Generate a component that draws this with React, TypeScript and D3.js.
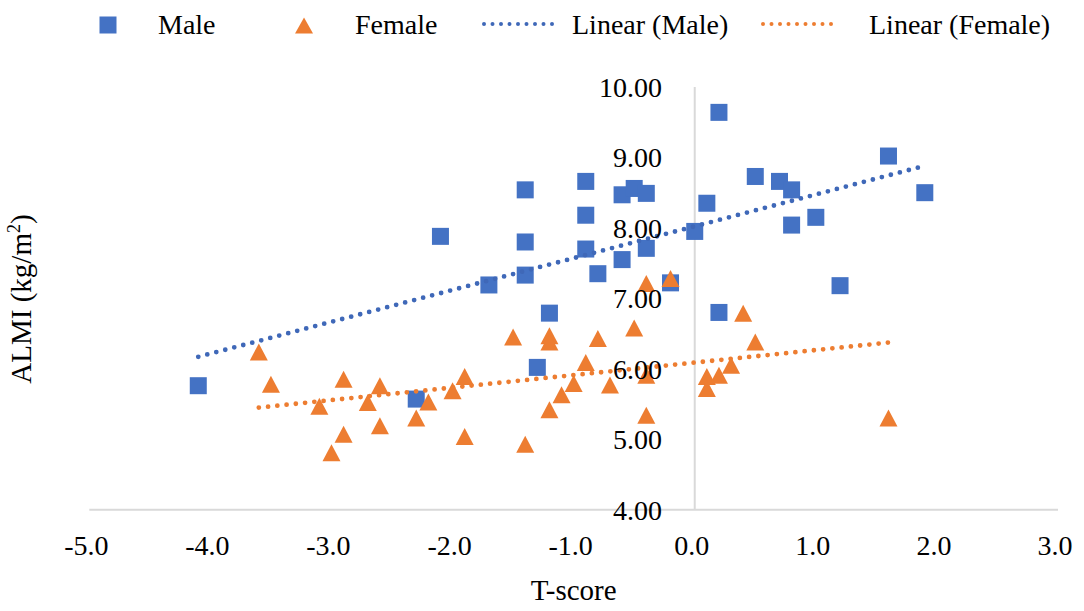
import * as d3 from "d3";

// T-score / ALMI values
const maleT = [-4.1, -2.3, -2.1, -1.7, -1.4, -1.4, -1.4, -1.3, -1.2, -0.9, -0.9, -0.9, -0.8, -0.6, -0.6, -0.5, -0.4, -0.4, -0.2, 0.0, 0.1, 0.2, 0.2, 0.5, 0.7, 0.8, 0.8, 1.0, 1.2, 1.6, 1.9];
const maleAlmi = [5.76, 5.57, 7.88, 7.19, 8.54, 7.8, 7.33, 6.02, 6.79, 8.66, 8.18, 7.7, 7.35, 8.47, 7.55, 8.56, 8.49, 7.71, 7.22, 7.95, 8.35, 9.64, 6.8, 8.73, 8.66, 8.54, 8.04, 8.15, 7.18, 9.02, 8.5];

const femaleT = [-3.6, -3.5, -3.1, -3.0, -2.9, -2.9, -2.7, -2.6, -2.6, -2.3, -2.2, -2.0, -1.9, -1.9, -1.5, -1.4, -1.2, -1.2, -1.2, -1.1, -1.0, -0.9, -0.8, -0.7, -0.5, -0.4, -0.4, -0.4, -0.2, 0.1, 0.1, 0.2, 0.3, 0.4, 0.5, 1.6];
const femaleAlmi = [6.24, 5.78, 5.47, 4.81, 5.85, 5.07, 5.52, 5.76, 5.19, 5.3, 5.53, 5.69, 5.89, 5.04, 6.45, 4.93, 6.47, 6.38, 5.42, 5.63, 5.79, 6.09, 6.43, 5.77, 6.58, 7.21, 5.91, 5.34, 7.28, 5.89, 5.72, 5.91, 6.05, 6.79, 6.38, 5.3];

const xTicks = [-5, -4, -3, -2, -1, 0, 1, 2, 3];
const yTicks = [4, 5, 6, 7, 8, 9, 10];

const BLUE = "#4472C4";
const ORANGE = "#ED7D31";
const BLUE_TREND = "#3F68B8";
const AXIS = "#D9D9D9";
const FONT = "'Liberation Serif', 'Times New Roman', serif";

const W = 1084;
const H = 611;

const x = d3.scaleLinear().domain([-5, 3]).range([89.3, 1058]);
const y = d3.scaleLinear().domain([4, 10]).range([509.7, 87]);

// least squares, drawn from min to max of the series like Excel
const trend = (xs: number[], ys: number[]) => {
  const mx = d3.mean(xs)!;
  const my = d3.mean(ys)!;
  const sxy = d3.sum(xs, (v, i) => (v - mx) * (ys[i] - my));
  const sxx = d3.sum(xs, (v) => (v - mx) * (v - mx));
  const b = sxy / sxx;
  const a = my - b * mx;
  const [x0, x1] = d3.extent(xs) as [number, number];
  return [
    [x0, a + b * x0],
    [x1, a + b * x1],
  ];
};

const line = d3
  .line<number[]>()
  .x((d) => x(d[0]))
  .y((d) => y(d[1]));

const SQ = 17;
const triPath = (w: number, h: number) => `M0,${-h / 2}L${w / 2},${h / 2}L${-w / 2},${h / 2}Z`;

export default function App() {
  const maleTrend = trend(maleT, maleAlmi);
  const femaleTrend = trend(femaleT, femaleAlmi);

  return (
    <svg
      width={W}
      height={H}
      style={{ position: "absolute", left: 0, top: 0, background: "#fff" }}
      fontFamily={FONT}
    >
      <rect width={W} height={H} fill="#fff" />

      {/* axes */}
      <line x1={x(-5)} x2={x(3)} y1={y(4)} y2={y(4)} stroke={AXIS} strokeWidth={2} />
      <line x1={x(0)} x2={x(0)} y1={y(4)} y2={y(10)} stroke={AXIS} strokeWidth={2} />

      {/* markers */}
      {maleT.map((t, i) => (
        <rect
          key={"m" + i}
          x={x(t) - SQ / 2}
          y={y(maleAlmi[i]) - SQ / 2}
          width={SQ}
          height={SQ}
          fill={BLUE}
        />
      ))}
      {femaleT.map((t, i) => (
        <path
          key={"f" + i}
          d={triPath(18, 17)}
          transform={`translate(${x(t)},${y(femaleAlmi[i])})`}
          fill={ORANGE}
        />
      ))}

      {/* trendlines */}
      <path d={line(maleTrend)!} fill="none" stroke={BLUE_TREND} strokeWidth={4.8} strokeDasharray="0 9.3" strokeLinecap="round" />
      <path d={line(femaleTrend)!} fill="none" stroke={ORANGE} strokeWidth={4.8} strokeDasharray="0 9.3" strokeLinecap="round" />

      {/* tick labels */}
      {xTicks.map((t) => (
        <text key={"xt" + t} x={x(t) - 3} y={555} textAnchor="middle" fontSize={28} fill="#000">
          {t.toFixed(1)}
        </text>
      ))}
      {yTicks.map((t) => (
        <text key={"yt" + t} x={662} y={y(t)} dy="0.35em" textAnchor="end" fontSize={28} fill="#000">
          {t.toFixed(2)}
        </text>
      ))}

      {/* axis titles */}
      <text x={(x(-5) + x(3)) / 2} y={600} textAnchor="middle" fontSize={29} fill="#000">
        T-score
      </text>
      <text transform="translate(31,299) rotate(-90)" textAnchor="middle" fontSize={29} fill="#000">
        ALMI (kg/m<tspan fontSize={18} dy={-11}>2</tspan>
        <tspan dy={11}>)</tspan>
      </text>

      {/* legend */}
      <g fontSize={28} fill="#000">
        <rect x={108 - 8.5} y={25 - 8.5} width={17} height={17} fill={BLUE} />
        <text x={158} y={33.5}>Male</text>
        <path d={triPath(18, 16)} transform="translate(304,25.5)" fill={ORANGE} />
        <text x={355} y={33.5}>Female</text>
        <line x1={484} x2={560} y1={24} y2={24} stroke={BLUE_TREND} strokeWidth={4} strokeDasharray="0 8.5" strokeLinecap="round" />
        <text x={572} y={33.5}>Linear (Male)</text>
        <line x1={763} x2={839} y1={24} y2={24} stroke={ORANGE} strokeWidth={4} strokeDasharray="0 8.5" strokeLinecap="round" />
        <text x={869} y={33.5}>Linear (Female)</text>
      </g>
    </svg>
  );
}
